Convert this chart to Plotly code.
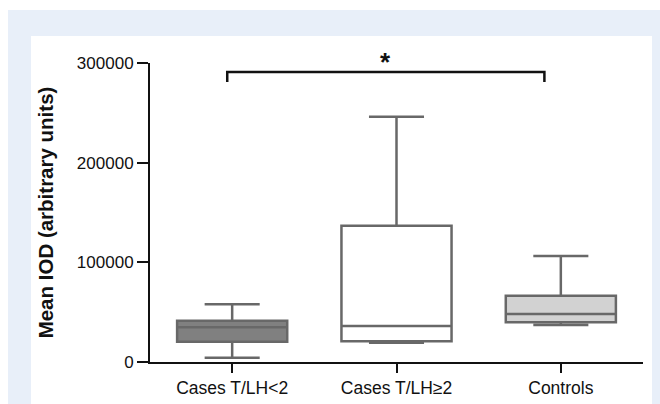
import plotly.graph_objects as go

# ---- data ----
categories = ["Cases T/LH<2", "Cases T/LH\u22652", "Controls"]
lower_whisker = [4300, 19400, 37100]
q1_values = [20300, 20800, 39800]
median_values = [34800, 36100, 48200]
q3_values = [41400, 136700, 66500]
upper_whisker = [57900, 246100, 106300]
fill_colors = ["#808080", "#ffffff", "#d2d2d2"]

y_ticks = [0, 100000, 200000, 300000]
y_title = "Mean IOD (arbitrary units)"

# significance bracket between group 1 and group 3
sig_from = -0.03
sig_to = 1.9
sig_line_y = 291000
sig_tip_y = 281000
sig_label = "*"

fig = go.Figure()

for i, cat in enumerate(categories):
    fig.add_trace(go.Box(
        x=[cat],
        q1=[q1_values[i]],
        median=[median_values[i]],
        q3=[q3_values[i]],
        lowerfence=[lower_whisker[i]],
        upperfence=[upper_whisker[i]],
        boxpoints=False,
        fillcolor=fill_colors[i],
        line=dict(color="#686868", width=2.5),
        width=0.67,
        whiskerwidth=0.5,
        showlegend=False,
        hoverinfo="skip",
    ))

# background panels (light blue frame + white panel)
W0, H0 = 493.0, 299.0
def px_x(p):
    return (p - 150) / W0
def px_y(p):
    return (362 - p) / H0

shapes = [
    dict(type="rect", xref="paper", yref="paper", layer="below",
         x0=px_x(8), x1=px_x(680), y0=px_y(430), y1=px_y(10),
         fillcolor="#e8eff9", line=dict(width=0)),
    dict(type="rect", xref="paper", yref="paper", layer="below",
         x0=px_x(31), x1=px_x(652), y0=px_y(430), y1=px_y(36),
         fillcolor="#ffffff", line=dict(width=0)),
    dict(type="path", xref="x", yref="y",
         path=f"M {sig_from},{sig_tip_y} L {sig_from},{sig_line_y} L {sig_to},{sig_line_y} L {sig_to},{sig_tip_y}",
         line=dict(color="#111111", width=2.5)),
]

fig.update_layout(
    width=660, height=404,
    margin=dict(l=150, r=17, t=63, b=42, autoexpand=False),
    paper_bgcolor="#ffffff",
    plot_bgcolor="rgba(0,0,0,0)",
    boxmode="overlay",
    shapes=shapes,
    font=dict(family="Liberation Sans, Arial, sans-serif", color="#111111"),
    annotations=[dict(
        x=(sig_from + sig_to) / 2, y=sig_line_y, xref="x", yref="y",
        text=f"<b>{sig_label}</b>", showarrow=False,
        yanchor="bottom", yshift=-7,
        font=dict(size=26, color="#111111"),
    )],
)

fig.update_xaxes(
    type="category",
    categoryorder="array", categoryarray=categories,
    range=[-0.5, 2.5],
    showline=True, linecolor="#111111", linewidth=2,
    ticks="outside", ticklen=9, tickwidth=2, tickcolor="#111111",
    tickfont=dict(size=17.5, color="#111111"),
    showgrid=False, zeroline=False, automargin=False,
)
fig.update_yaxes(
    range=[0, 300000],
    tickvals=y_ticks, ticktext=[str(v) for v in y_ticks],
    showline=True, linecolor="#111111", linewidth=2,
    ticks="outside", ticklen=11, tickwidth=2, tickcolor="#111111",
    tickfont=dict(size=17, color="#111111"),
    showgrid=False, zeroline=False, automargin=False,
    title=dict(text=f"<b>{y_title}</b>", font=dict(size=20.5, color="#111111"), standoff=18),
)

fig.write_html("out.html",
               config={"displayModeBar": False},
               post_script="document.body.style.margin='0px';document.body.style.overflow='hidden';")
